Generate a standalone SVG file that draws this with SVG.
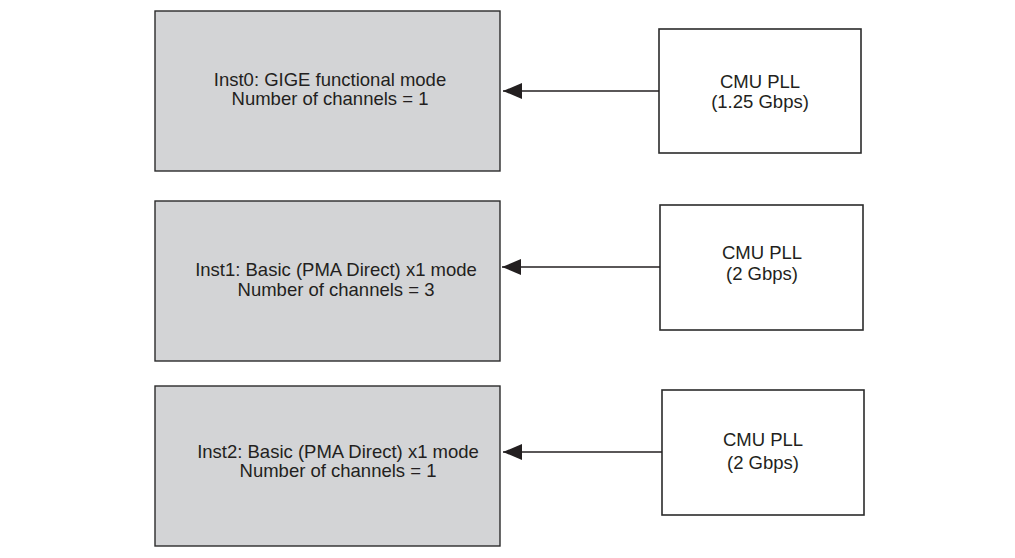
<svg xmlns="http://www.w3.org/2000/svg" width="1015" height="558" viewBox="0 0 1015 558">
<style>
.inst{fill:#d3d4d6;stroke:#2b2b2b;stroke-width:1.4}
.pll{fill:#ffffff;stroke:#2b2b2b;stroke-width:1.6}
.t{font-family:"Liberation Sans",Arial,sans-serif;font-size:18.5px;fill:#231f20;text-anchor:middle}
.c{stroke:#231f20;stroke-width:1.5;fill:none}
</style>
<defs>
<marker id="ah" markerWidth="20" markerHeight="16" refX="19" refY="8" orient="auto" markerUnits="userSpaceOnUse">
<path d="M0,0 L19,8 L0,16 Z" fill="#231f20"/>
</marker>
</defs>
<rect width="1015" height="558" fill="#ffffff"/>
<g id="inst0">
<rect class="inst" x="155" y="11" width="345" height="160"/>
<text class="t" x="330" y="86">Inst0: GIGE functional mode</text>
<text class="t" x="330" y="105">Number of channels = 1</text>
</g>
<g id="inst1">
<rect class="inst" x="155" y="201" width="345" height="160"/>
<text class="t" x="336" y="276">Inst1: Basic (PMA Direct) x1 mode</text>
<text class="t" x="336" y="296">Number of channels = 3</text>
</g>
<g id="inst2">
<rect class="inst" x="155" y="386" width="345" height="160"/>
<text class="t" x="338" y="458">Inst2: Basic (PMA Direct) x1 mode</text>
<text class="t" x="338" y="477">Number of channels = 1</text>
</g>
<g id="pll0">
<rect class="pll" x="659" y="29" width="202" height="124"/>
<text class="t" x="760" y="88">CMU PLL</text>
<text class="t" x="760" y="108">(1.25 Gbps)</text>
</g>
<g id="pll1">
<rect class="pll" x="660" y="205" width="203" height="125"/>
<text class="t" x="762" y="259">CMU PLL</text>
<text class="t" x="762" y="280">(2 Gbps)</text>
</g>
<g id="pll2">
<rect class="pll" x="662" y="390" width="202" height="125"/>
<text class="t" x="763" y="446">CMU PLL</text>
<text class="t" x="763" y="469">(2 Gbps)</text>
</g>
<g id="connectors">
<line class="c" x1="659" y1="91" x2="503" y2="91" marker-end="url(#ah)"/>
<line class="c" x1="660" y1="267" x2="502" y2="267" marker-end="url(#ah)"/>
<line class="c" x1="662" y1="452" x2="503" y2="452" marker-end="url(#ah)"/>
</g>
</svg>
